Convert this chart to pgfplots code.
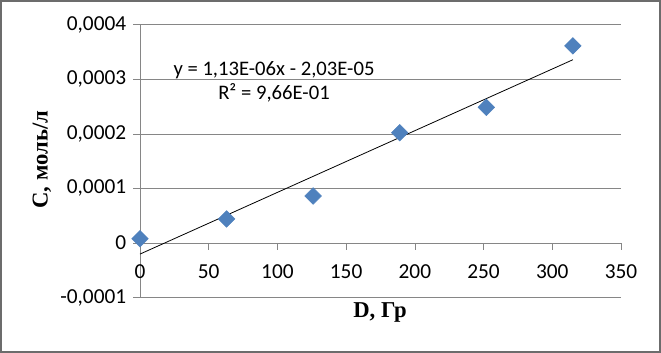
\documentclass[border=0pt]{standalone}
\usepackage{fontspec}
\setmainfont{Carlito}
\newfontfamily\tnr{Liberation Serif}
\usepackage{pgfplots}
\pgfplotsset{compat=1.18}
\definecolor{ptblue}{HTML}{4F81BD}
\definecolor{gridgray}{RGB}{134,134,134}
\begin{document}
\begin{tikzpicture}
\fontsize{15.5}{18}\selectfont
\path[use as bounding box] (0pt,0pt) rectangle (495.75pt,264.75pt);
\draw[color=gray!85!black, line width=1.5pt] (0.75pt,0.75pt) rectangle (495pt,264pt);
\begin{axis}[
  at={(105pt,82.5pt)}, anchor=origin,
  scale only axis, width=360.75pt, height=204.75pt,
  xmin=0, xmax=350, ymin=-0.0001, ymax=0.0004,
  scaled y ticks=false,
  axis x line=middle, axis y line=left,
  hide obscured x ticks=false,
  axis line style={draw=gridgray, -},
  xtick={0,50,...,350},
  ytick={-0.0001,0,0.0001,0.0002,0.0003,0.0004},
  yticklabels={{-0,0001},{0},{0,0001},{0,0002},{0,0003},{0,0004}},
  xticklabels={0,50,100,150,200,250,300,350},
  tick align=outside,
  major tick length=5pt,
  tick style={draw=gridgray, thin},
  ymajorgrids,
  major grid style={draw=gridgray, thin},
  tick label style={font=\fontsize{16}{18}\selectfont},
  xticklabel style={yshift=-6pt},
  xlabel={\tnr\bfseries D, Гр},
  ylabel={\tnr\bfseries C, моль/л},
  label style={font=\fontsize{17}{19}\selectfont},
  xlabel style={at={(axis description cs:0.499,-0.055)}, anchor=center},
  ylabel style={at={(axis description cs:-0.204,0.505)}, anchor=center},
  clip=false,
]
\addplot[only marks, mark=square*, mark size=4.4pt,
  mark options={rotate=45, fill=ptblue, draw=ptblue}]
  coordinates {(0,0.0000079) (63,0.000044) (126,0.0000861) (189,0.000202) (252,0.0002485) (315,0.000361)};
\addplot[black, line width=0.6pt] coordinates {(0,-0.0000203) (315,0.00033565)};
\node[align=center, font=\fontsize{15.5}{18}\selectfont] at (axis cs:97.5,0.000295)
  {y = 1,13E-06x - 2,03E-05\\R² = 9,66E-01};
\end{axis}
\end{tikzpicture}
\end{document}
